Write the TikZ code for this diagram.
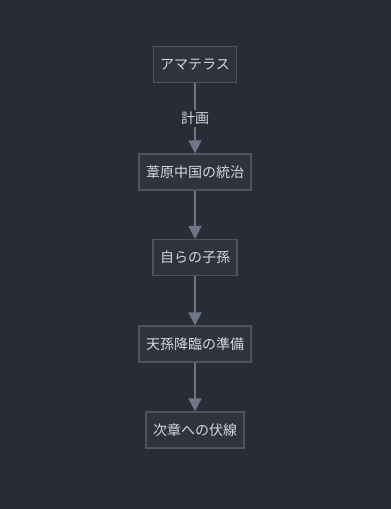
\documentclass[tikz,border=0pt]{standalone}
\usepackage{fontspec}
\newfontfamily\jp{Noto Sans CJK JP}
\usetikzlibrary{arrows.meta}
\definecolor{bg}{HTML}{282C34}
\definecolor{nodefill}{HTML}{2E333C}
\definecolor{nodeline}{HTML}{4D5462}
\definecolor{txt}{HTML}{D4D7DD}
\definecolor{arr}{HTML}{6E7587}
\tikzset{
  box/.style={draw=nodeline, fill=nodefill, line width=1.2pt, text=txt, font=\jp\fontsize{14}{16}\selectfont, minimum height=36pt, inner xsep=7pt, inner ysep=0pt},
  conn/.style={draw=arr, line width=1.6pt, -{Triangle[length=13pt,width=13pt]}},
  lbl/.style={fill=bg, text=txt, font=\jp\fontsize{14}{16}\selectfont, inner sep=2pt}
}
\begin{document}
\begin{tikzpicture}[x=1pt,y=1pt]
\fill[bg] (0,0) rectangle (391,-509);
\useasboundingbox (0,0) rectangle (391,-509);
\node[box] (a) at (195,-64.5) {アマテラス};
\node[box] (b) at (195,-172) {葦原中国の統治};
\node[box] (c) at (195,-257.5) {自らの子孫};
\node[box] (d) at (195,-344) {天孫降臨の準備};
\node[box] (e) at (195,-430) {次章への伏線};
\draw[conn] (a) -- node[lbl] {計画} (b);
\draw[conn] (b) -- (c);
\draw[conn] (c) -- (d);
\draw[conn] (d) -- (e);
\end{tikzpicture}
\end{document}
